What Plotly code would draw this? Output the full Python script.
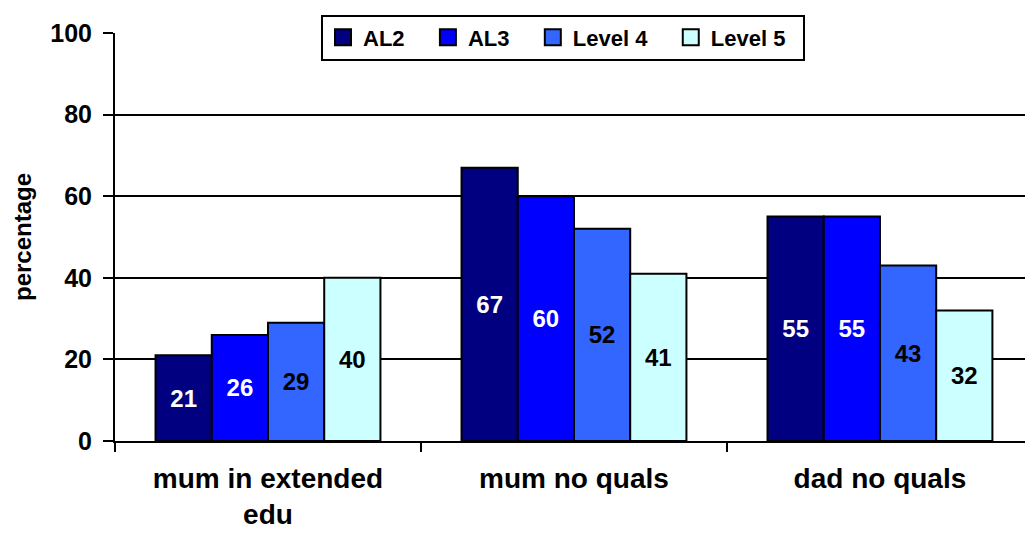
import plotly.graph_objects as go

categories = ["mum in extended<br>edu", "mum no quals", "dad no quals"]
series_names = ["AL2", "AL3", "Level 4", "Level 5"]
al2 = [21, 67, 55]
al3 = [26, 60, 55]
level4 = [29, 52, 43]
level5 = [40, 41, 32]
colors = ["#000080", "#0000FF", "#3366FF", "#CCFFFF"]
text_colors = ["white", "white", "black", "black"]
legend_pad = ["&nbsp;&nbsp;&nbsp;", "&nbsp;&nbsp;&nbsp;", "&nbsp;&nbsp;&nbsp;", "&nbsp;&nbsp;"]
y_ticks = [0, 20, 40, 60, 80, 100]

FONT = "Arial, Liberation Sans, sans-serif"

fig = go.Figure()
for name, vals, c, tc in zip(series_names, [al2, al3, level4, level5], colors, text_colors):
    fig.add_trace(go.Bar(
        name=name, x=categories, y=vals, legendgroup=name, showlegend=False,
        marker=dict(color=c, line=dict(color="black", width=2)),
        text=[str(v) for v in vals], textposition="inside",
        insidetextanchor="middle", textangle=0,
        textfont=dict(family=FONT, size=24, color=tc, weight="bold"),
        constraintext="none",
    ))
# legend entries with larger square swatches
for name, c, pad in zip(series_names, colors, legend_pad):
    fig.add_trace(go.Scatter(
        name=name + pad, x=[None], y=[None], mode="markers", legendgroup=name,
        marker=dict(symbol="square", size=16, color=c, line=dict(color="black", width=2)),
        hoverinfo="skip",
    ))

fig.update_layout(
    width=1025, height=534,
    margin=dict(l=115, r=0, t=33, b=93, autoexpand=False),
    paper_bgcolor="white", plot_bgcolor="white",
    barmode="group", bargap=0.265, bargroupgap=0,
    font=dict(family=FONT, color="black"),
    showlegend=True,
    legend=dict(
        orientation="h", x=(563 - 115) / 910, xanchor="center",
        yref="container", y=1 - 37.5 / 534, yanchor="middle",
        bgcolor="white", bordercolor="black", borderwidth=2,
        font=dict(family=FONT, size=22, color="black", weight="bold"),
        itemwidth=30, traceorder="normal",
    ),
    annotations=[dict(
        text="percentage", xref="paper", yref="paper",
        x=(22 - 115) / 910, y=(441 - 237) / 408, xanchor="center", yanchor="middle",
        textangle=-90, showarrow=False,
        font=dict(family=FONT, size=24, color="black", weight="bold"),
    )],
)
fig.update_xaxes(
    range=[-0.5, 2.474], showline=True, linecolor="black", linewidth=2,
    ticks="outside", tickson="boundaries", ticklen=9, tickwidth=2, tickcolor="black",
    tickfont=dict(family=FONT, size=28, color="black", weight="bold"),
    ticklabelstandoff=11, automargin=False,
    showgrid=False,
)
fig.update_yaxes(
    range=[0, 100], tickvals=y_ticks, showline=True, linecolor="black", linewidth=2,
    ticks="outside", ticklen=10, tickwidth=2, tickcolor="black",
    tickfont=dict(family=FONT, size=25, color="black", weight="bold"),
    ticklabelstandoff=6, automargin=False,
    showgrid=True, gridcolor="black", gridwidth=2,
    zeroline=False,
)

fig.write_html(
    "out.html",
    config={"displayModeBar": False},
    post_script="document.body.style.margin='0';document.body.style.padding='0';",
)
